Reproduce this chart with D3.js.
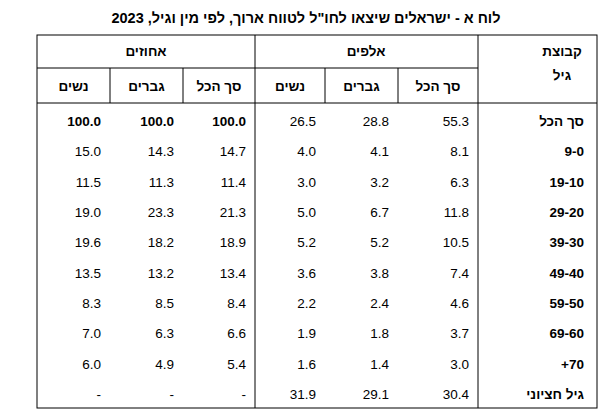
<!DOCTYPE html><html><head><meta charset="utf-8"><script src="https://cdn.jsdelivr.net/npm/d3@7"></script>
<style>body{margin:0;background:#fff}text{font-family:"Liberation Sans",Arial,sans-serif;font-size:13.5px;fill:#000}</style></head><body>
<svg id="c" width="613" height="418"></svg>
<script>
const title = 'לוח א - ישראלים שיצאו לחו"ל לטווח ארוך, לפי מין וגיל, 2023';
const ageGroups = ["סך הכל","0-9","10-19","20-29","30-39","40-49","50-59","60-69","+70","גיל חציוני"];
const ageLabels = ["סך הכל","9-0","19-10","29-20","39-30","49-40","59-50","69-60","+70","גיל חציוני"];
const thTotal = [55.3,8.1,6.3,11.8,10.5,7.4,4.6,3.7,3.0,30.4];
const thMen   = [28.8,4.1,3.2,6.7,5.2,3.8,2.4,1.8,1.4,29.1];
const thWomen = [26.5,4.0,3.0,5.0,5.2,3.6,2.2,1.9,1.6,31.9];
const pctTotal = [100.0,14.7,11.4,21.3,18.9,13.4,8.4,6.6,5.4,null];
const pctMen   = [100.0,14.3,11.3,23.3,18.2,13.2,8.5,6.3,4.9,null];
const pctWomen = [100.0,15.0,11.5,19.0,19.6,13.5,8.3,7.0,6.0,null];
const subHeads = ["סך הכל","גברים","נשים"];

const svg = d3.select("#c");
svg.append("text").attr("x",306).attr("y",23).attr("text-anchor","middle").attr("font-weight","bold").style("font-size","14.5px").text(title);
const edges=[37,110,183,255,325,398,478,597];
const cols=[pctWomen,pctMen,pctTotal,thWomen,thMen,thTotal];
const g=svg.append("g").attr("stroke","#000").attr("stroke-width",1);
const yTop=35,yMid=68,yHb=103,yBot=408;
g.append("rect").attr("x",37).attr("y",yTop).attr("width",560).attr("height",yBot-yTop).attr("fill","none");
[255,478].forEach(x=>g.append("line").attr("x1",x).attr("x2",x).attr("y1",yTop).attr("y2",yBot));
[110,183,325,398].forEach(x=>g.append("line").attr("x1",x).attr("x2",x).attr("y1",yMid).attr("y2",yHb));
g.append("line").attr("x1",37).attr("x2",478).attr("y1",yMid).attr("y2",yMid);
g.append("line").attr("x1",37).attr("x2",597).attr("y1",yHb).attr("y2",yHb);
svg.append("text").attr("x",146).attr("y",56).attr("text-anchor","middle").attr("font-weight","bold").text("אחוזים");
svg.append("text").attr("x",366).attr("y",56).attr("text-anchor","middle").attr("font-weight","bold").text("אלפים");
svg.append("text").attr("x",562).attr("y",56).attr("text-anchor","middle").attr("font-weight","bold").text("קבוצת");
svg.append("text").attr("x",562).attr("y",80).attr("text-anchor","middle").attr("font-weight","bold").text("גיל");
for(let k=0;k<6;k++){
  svg.append("text").attr("x",(edges[k]+edges[k+1])/2).attr("y",91).attr("text-anchor","middle").attr("font-weight","bold").text(subHeads[2-(k%3)]);
}
const y=d3.scaleBand().domain(ageGroups).range([106,409]);
ageGroups.forEach((a,i)=>{
  const cy=y(a)+y.bandwidth()/2+5;
  svg.append("text").attr("x",584).attr("y",cy).attr("text-anchor","end").attr("font-weight","bold").text(ageLabels[i]);
  cols.forEach((c,k)=>{
    const v=c[i];
    svg.append("text").attr("x",edges[k+1]-9).attr("y",cy).attr("text-anchor","end")
      .attr("font-weight",(i===0&&k<3)?"bold":"normal").text(v==null?"-":d3.format(".1f")(v));
  });
});
</script></body></html>
